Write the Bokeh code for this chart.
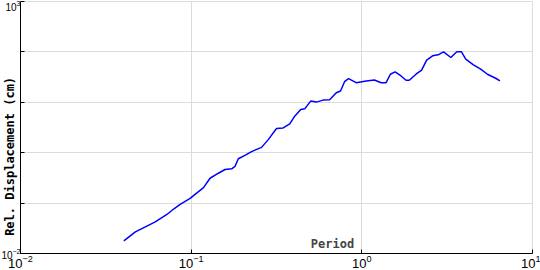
from bokeh.plotting import figure
from bokeh.models import Label, FixedTicker
from bokeh.embed import file_html
from bokeh.resources import INLINE

period = [0.0403, 0.0471, 0.0539, 0.0616, 0.0721, 0.0789, 0.0862, 0.0986, 0.1104, 0.1181,
          0.129, 0.1444, 0.1579, 0.1727, 0.1805, 0.189, 0.2065, 0.2272, 0.2585, 0.2829,
          0.3162, 0.346, 0.3782, 0.4044, 0.4385, 0.4626, 0.5014, 0.5415, 0.5925, 0.6475,
          0.7084, 0.7504, 0.7919, 0.8356, 0.9268, 1.06, 1.185, 1.297, 1.387, 1.47,
          1.565, 1.697, 1.815, 1.897, 2.076, 2.241, 2.397, 2.598, 2.802, 3.012,
          3.322, 3.602, 3.836, 4.064, 4.507, 4.972, 5.441, 6.083, 6.446]
displacement = [0.01776, 0.02686, 0.0338, 0.04254, 0.05949, 0.07623, 0.09419, 0.1241, 0.1689, 0.2029,
                0.3112, 0.3915, 0.4642, 0.4794, 0.5327, 0.759, 0.8833, 1.061, 1.276, 1.818,
                3.013, 3.097, 3.723, 5.304, 7.216, 7.418, 10.57, 10.09, 11.06, 11.22,
                15.47, 16.74, 25.66, 29.45, 24.5, 26.5, 27.74, 24.5, 24.5, 36.06,
                40.07, 33.34, 27.36, 27.36, 36.06, 43.33, 68.6, 83.6, 87.5, 100.5,
                77.3, 100.5, 100.5, 71.8, 55.3, 45.4, 36.06, 30.0, 26.5]

x_ticks = [0.01, 0.1, 1, 10]
y_ticks = [0.01, 0.1, 1, 10, 100, 1000]
y_hidden = [0.1, 1, 10, 100]

p = figure(width=540, height=270, x_axis_type="log", y_axis_type="log",
           x_range=(0.01, 10), y_range=(0.01, 1000),
           output_backend="svg", toolbar_location=None,
           min_border_left=0, min_border_right=8, min_border_top=1, min_border_bottom=0)

p.line(period, displacement, line_color="#0000ff", line_width=1.5)

p.xaxis.ticker = FixedTicker(ticks=x_ticks)
p.yaxis.ticker = FixedTicker(ticks=y_ticks)
p.yaxis.major_label_overrides = {t: "" for t in y_hidden}

for ax in (p.xaxis[0], p.yaxis[0]):
    ax.major_tick_in = 4
    ax.major_tick_out = 0
    ax.minor_tick_in = 0
    ax.minor_tick_out = 0
    ax.major_label_standoff = 2
    ax.major_label_text_font = "Liberation Sans"
    ax.major_label_text_font_size = "13px"
    ax.major_label_text_color = "#000000"
    ax.axis_line_color = "#000000"
    ax.major_tick_line_color = "#000000"

p.xaxis.axis_label = None
p.xaxis.major_label_standoff = 1
p.yaxis.major_label_standoff = 0
p.yaxis.major_label_text_font_size = "10px"
p.yaxis.axis_label = "Rel. Displacement (cm)" + "\u00a0" * 8
p.yaxis.axis_label_standoff = -19
p.yaxis.axis_label_text_font = "DejaVu Sans Mono"
p.yaxis.axis_label_text_font_style = "bold"
p.yaxis.axis_label_text_font_size = "12px"
p.yaxis.axis_label_text_color = "#000000"

p.xgrid.grid_line_color = "#dcdcdc"
p.ygrid.grid_line_color = "#dcdcdc"
p.outline_line_color = "#dcdcdc"

p.add_layout(Label(x=312, y=10, x_units="screen", y_units="screen", text="Period",
                   text_font="DejaVu Sans Mono", text_font_style="bold",
                   text_font_size="12px", text_align="center", text_baseline="middle"))

open("out.html", "w").write(file_html(p, INLINE))
